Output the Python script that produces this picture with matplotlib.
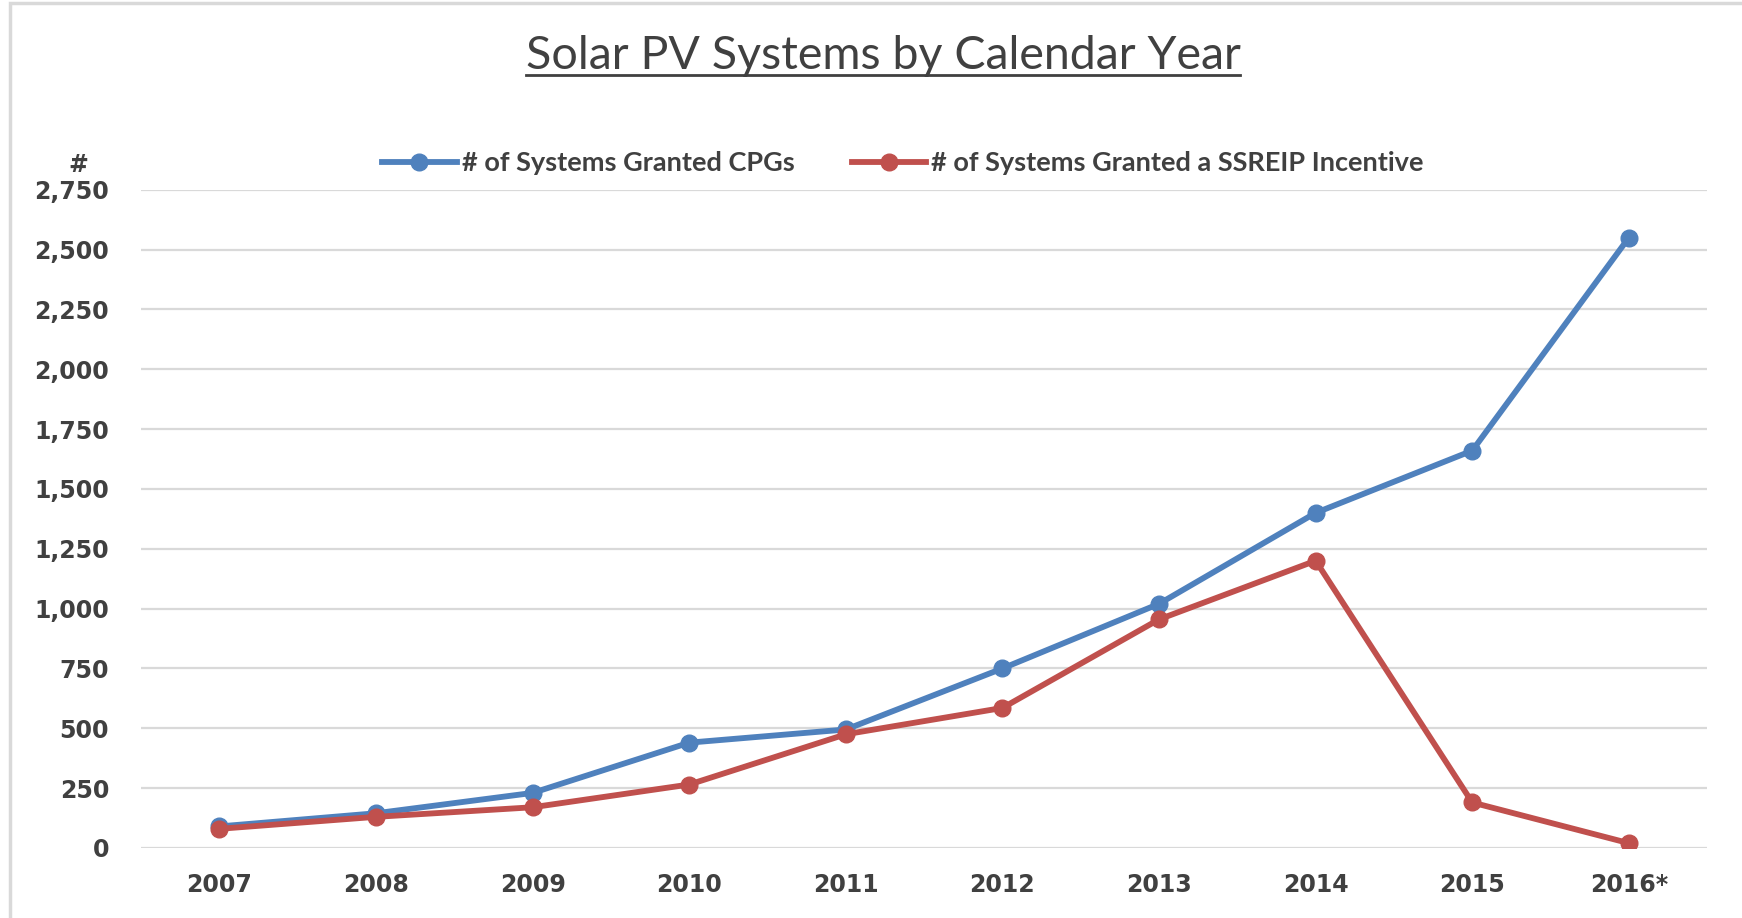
import numpy as np
import matplotlib.pyplot as plt
from matplotlib.lines import Line2D
from matplotlib.patches import Rectangle
from matplotlib.ticker import FuncFormatter

# Data
years = ['2007', '2008', '2009', '2010', '2011', '2012', '2013', '2014', '2015', '2016*']
cpg_systems = [90, 145, 230, 440, 495, 750, 1020, 1400, 1660, 2550]
ssreip_systems = [80, 130, 170, 265, 475, 585, 955, 1200, 190, 20]
yticks = [0, 250, 500, 750, 1000, 1250, 1500, 1750, 2000, 2250, 2500, 2750]

blue = '#4F81BD'
red = '#C0504D'
text_col = '#404040'
label_font = ['Lato', 'DejaVu Sans']

fig = plt.figure(figsize=(17.42, 9.18), dpi=100)
ax = fig.add_axes([0.081, 0.0763, 0.899, 0.717])

# light border around the chart area
fig.patches.append(Rectangle((10 / 1742, -0.01), 1.02, 1 - 3 / 918 + 0.01,
                             transform=fig.transFigure, fill=False,
                             edgecolor='#d9d9d9', linewidth=2.5))

x = np.arange(len(years))
ax.plot(x, cpg_systems, color=blue, linewidth=4.2, marker='o', markersize=12,
        label='# of Systems Granted CPGs', zorder=3)
ax.plot(x, ssreip_systems, color=red, linewidth=4.2, marker='o', markersize=12,
        label='# of Systems Granted a SSREIP Incentive', zorder=3)

ax.set_xlim(-0.5, len(years) - 0.5)
ax.set_ylim(0, 2750)
ax.set_yticks(yticks)
ax.yaxis.set_major_formatter(FuncFormatter(lambda v, p: f'{int(v):,}'))
ax.set_xticks(x)
ax.set_xticklabels(years)
ax.grid(axis='y', color='#d9d9d9', linewidth=1.6)
ax.set_axisbelow(True)
for s in ax.spines.values():
    s.set_visible(False)
ax.tick_params(length=0, colors=text_col)
ax.tick_params(axis='y', pad=23)
ax.tick_params(axis='x', pad=18)
for lab in ax.get_xticklabels() + ax.get_yticklabels():
    lab.set_fontsize(17)
    lab.set_fontweight('bold')
    lab.set_family('DejaVu Sans')

# "#" above the y axis labels
fig.text(78 / 1742, 1 - 165 / 918, '#', ha='center', va='center',
         fontsize=17, fontweight='bold', color=text_col)

leg = ax.legend(loc='center', bbox_to_anchor=(903 / 1742, 1 - 163 / 918),
                bbox_transform=fig.transFigure, ncol=2, frameon=False,
                handlelength=2.75, handletextpad=0.2, columnspacing=2.1,
                prop={'family': label_font, 'weight': 'bold', 'size': 19.5})
for t in leg.get_texts():
    t.set_color(text_col)

title = fig.text(883 / 1742, 1 - 56 / 918, 'Solar PV Systems by Calendar Year',
                 ha='center', va='center', fontsize=33.5, color=text_col,
                 family=label_font)

# underline the title
fig.canvas.draw()
bb = title.get_window_extent().transformed(fig.transFigure.inverted())
fig.lines.append(Line2D([bb.x0, bb.x1], [bb.y0 + 0.002, bb.y0 + 0.002],
                        transform=fig.transFigure, color=text_col, linewidth=2))

fig.savefig('out.png', dpi=100)
